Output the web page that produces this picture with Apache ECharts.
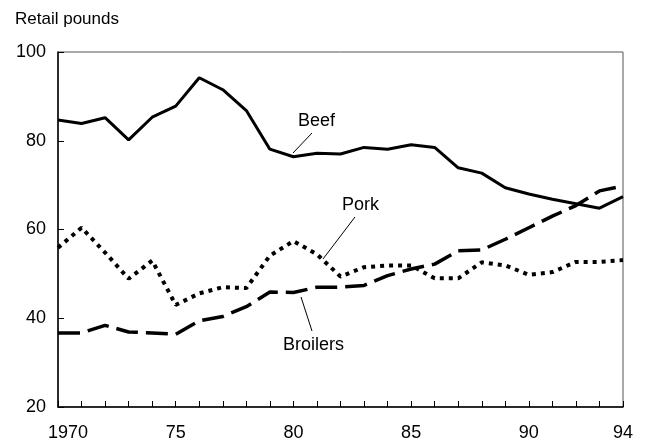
<!DOCTYPE html>
<html>
<head>
<meta charset="utf-8">
<script src="https://cdn.jsdelivr.net/npm/echarts@6/dist/echarts.min.js"></script>
<style>
  html, body { margin: 0; padding: 0; background: #fff; }
  #chart { width: 648px; height: 442px; }
</style>
</head>
<body>
<div id="chart"></div>
<script>
  // per capita consumption, retail pounds
  var years = [1970, 1971, 1972, 1973, 1974, 1975, 1976, 1977, 1978, 1979, 1980, 1981, 1982,
    1983, 1984, 1985, 1986, 1987, 1988, 1989, 1990, 1991, 1992, 1993, 1994]
  var beef = [84.7, 83.9, 85.2, 80.2, 85.3, 87.8, 94.2, 91.5, 86.8, 78.1, 76.4, 77.2, 77.0,
    78.5, 78.1, 79.1, 78.5, 73.9, 72.7, 69.4, 68.0, 66.8, 65.8, 64.8, 67.4]
  var pork = [55.9, 60.4, 54.8, 48.9, 53.0, 43.0, 45.6, 47.0, 46.8, 54.1, 57.4, 54.4, 49.4,
    51.5, 51.9, 51.9, 49.0, 49.0, 52.6, 51.9, 49.8, 50.4, 52.7, 52.7, 53.1]
  var broilers = [36.7, 36.7, 38.4, 36.9, 36.7, 36.4, 39.4, 40.4, 42.6, 45.9, 45.8, 47.0, 47.0,
    47.4, 49.6, 51.1, 52.2, 55.2, 55.4, 57.8, 60.4, 63.0, 65.4, 68.7, 69.8]
  var labelYears = [1970, 1975, 1980, 1985, 1990, 1994]
  var labelText = ['1970', '75', '80', '85', '90', '94']

  function pairs (vals) {
    return years.map(function (y, i) { return [y, vals[i]] })
  }

  var font = 'Liberation Sans, Arial, Helvetica, sans-serif'
  var myChart = echarts.init(document.getElementById('chart'))

  myChart.setOption({
    animation: false,
    backgroundColor: '#fff',
    textStyle: { fontFamily: font, color: '#000' },
    grid: {
      left: 58, right: 25, top: 52, bottom: 33,
      show: true, borderColor: '#555', borderWidth: 1
    },
    xAxis: {
      type: 'value',
      min: 1970,
      max: 1994,
      interval: 1,
      axisLine: { lineStyle: { color: '#000', width: 1.5 } },
      axisTick: { inside: true, length: 6, lineStyle: { color: '#000', width: 1 } },
      splitLine: { show: false },
      axisLabel: {
        margin: 17,
        fontSize: 18,
        color: '#000',
        fontFamily: font,
        showMinLabel: true,
        showMaxLabel: true,
        formatter: function (v) {
          var i = labelYears.indexOf(v)
          if (i < 0) return ''
          if (i === 0) return '{first|' + labelText[i] + '}'
          return labelText[i]
        },
        rich: {
          first: { fontSize: 18, fontFamily: font, color: '#000', padding: [0, 0, 0, 20] }
        }
      }
    },
    yAxis: {
      type: 'value',
      min: 20,
      max: 100,
      interval: 20,
      axisLine: { show: true, lineStyle: { color: '#000', width: 1.5 } },
      axisTick: { show: true, inside: true, length: 6, lineStyle: { color: '#000', width: 1 } },
      splitLine: { show: false },
      axisLabel: { margin: 12, fontSize: 18, color: '#000', fontFamily: font }
    },
    graphic: [
      { type: 'text', left: 15, top: 11, style: { text: 'Retail pounds', font: '17px ' + font, fill: '#000' } },
      { type: 'text', x: 298, y: 112, style: { text: 'Beef', font: '18px ' + font, fill: '#000' } },
      { type: 'line', shape: { x1: 312, y1: 133, x2: 293, y2: 153 }, style: { stroke: '#000', lineWidth: 1 } },
      { type: 'text', x: 342, y: 196, style: { text: 'Pork', font: '18px ' + font, fill: '#000' } },
      { type: 'line', shape: { x1: 355, y1: 217, x2: 323, y2: 259 }, style: { stroke: '#000', lineWidth: 1 } },
      { type: 'text', x: 283, y: 336, style: { text: 'Broilers', font: '18px ' + font, fill: '#000' } },
      { type: 'line', shape: { x1: 301, y1: 297, x2: 312, y2: 331 }, style: { stroke: '#000', lineWidth: 1 } }
    ],
    series: [
      {
        name: 'Beef',
        type: 'line',
        data: pairs(beef),
        showSymbol: false,
        lineStyle: { color: '#000', width: 3 }
      },
      {
        name: 'Pork',
        type: 'line',
        data: pairs(pork),
        showSymbol: false,
        lineStyle: { color: '#000', width: 4, type: [4, 5], cap: 'butt' }
      },
      {
        name: 'Broilers',
        type: 'line',
        data: pairs(broilers),
        showSymbol: false,
        lineStyle: { color: '#000', width: 3.5, type: [22, 8], cap: 'butt' }
      }
    ]
  })
</script>
</body>
</html>
